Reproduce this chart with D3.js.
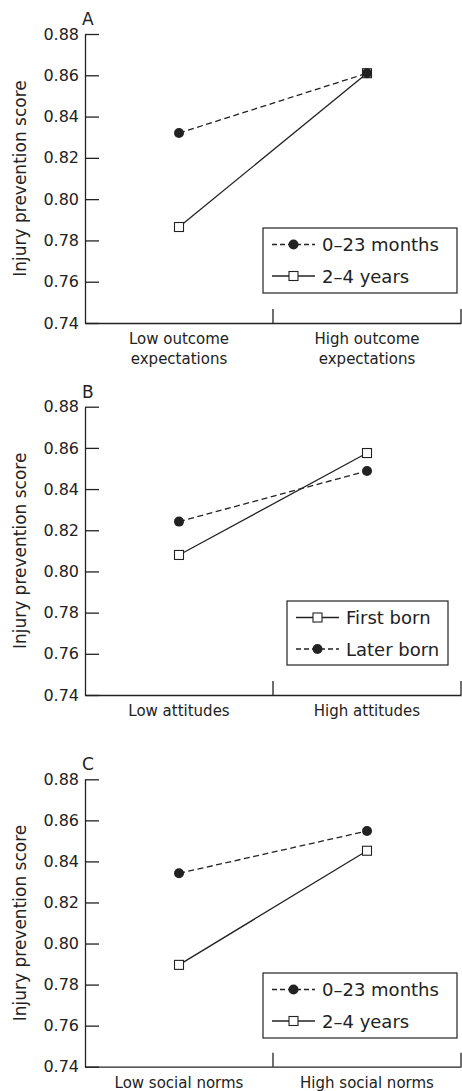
<!DOCTYPE html>
<html><head><meta charset="utf-8">
<script src="https://cdn.jsdelivr.net/npm/d3@7"></script>
<style>body{margin:0;background:#fff}svg{display:block}text{font-family:"DejaVu Sans",sans-serif;fill:#222}</style>
</head><body>
<script>
// ---- data ----
const yTicks = [0.74, 0.76, 0.78, 0.80, 0.82, 0.84, 0.86, 0.88];
const yLabel = "Injury prevention score";

const panelLabels = ["A", "B", "C"];

const categoriesA = ["Low outcome\nexpectations", "High outcome\nexpectations"];
const categoriesB = ["Low attitudes", "High attitudes"];
const categoriesC = ["Low social norms", "High social norms"];

// Panel A: child age
const youngA = [0.832, 0.861];   // 0–23 months
const olderA = [0.7865, 0.861];  // 2–4 years
// Panel B: birth order
const firstB = [0.808, 0.8575];  // First born
const laterB = [0.8242, 0.8488]; // Later born
// Panel C: child age
const youngC = [0.8342, 0.8548]; // 0–23 months
const olderC = [0.7896, 0.8452]; // 2–4 years

const seriesNamesAge = ["0–23 months", "2–4 years"];
const seriesNamesBirth = ["First born", "Later born"];

// ---- layout ----
const W = 462, H = 1091;
const svg = d3.select("body").append("svg").attr("width", W).attr("height", H);
const ink = "#222";

const panels = [
  {label: panelLabels[0], cats: categoriesA, top: 34, bottom: 323,
   series: [{name: seriesNamesAge[0], vals: youngA, type: "circle", dash: true},
            {name: seriesNamesAge[1], vals: olderA, type: "square", dash: false}],
   drawOrder: [1, 0],
   legend: {x: 263, y: 228, w: 194, h: 65}},
  {label: panelLabels[1], cats: categoriesB, top: 406.7, bottom: 695,
   series: [{name: seriesNamesBirth[0], vals: firstB, type: "square", dash: false},
            {name: seriesNamesBirth[1], vals: laterB, type: "circle", dash: true}],
   drawOrder: [0, 1],
   legend: {x: 287, y: 601, w: 161, h: 64}},
  {label: panelLabels[2], cats: categoriesC, top: 779.3, bottom: 1066.7,
   series: [{name: seriesNamesAge[0], vals: youngC, type: "circle", dash: true},
            {name: seriesNamesAge[1], vals: olderC, type: "square", dash: false}],
   drawOrder: [1, 0],
   legend: {x: 263, y: 973, w: 194, h: 65}}
];

const x0 = 85, x1 = 461;

function marker(g, type, cx, cy) {
  if (type === "circle") {
    g.append("circle").attr("cx", cx).attr("cy", cy).attr("r", 5).attr("fill", ink);
  } else {
    g.append("rect").attr("x", cx - 4.5).attr("y", cy - 4.5).attr("width", 9).attr("height", 9)
      .attr("fill", "#fff").attr("stroke", ink).attr("stroke-width", 1.1);
  }
}

panels.forEach(p => {
  const g = svg.append("g");
  const x = d3.scaleBand().domain(p.cats).range([x0, x1]).padding(0);
  const y = d3.scaleLinear().domain([0.74, 0.88]).range([p.bottom, p.top]);

  // y axis
  const ya = g.append("g").attr("transform", `translate(${x0},0)`)
    .call(d3.axisLeft(y).tickValues(yTicks).tickFormat(d3.format(".2f"))
      .tickSizeInner(-14).tickSizeOuter(0).tickPadding(6));
  ya.selectAll("path,line").attr("stroke", ink).attr("stroke-width", 1.3);
  ya.selectAll("text").attr("font-size", 16).attr("fill", ink).attr("font-family", "DejaVu Sans");

  // x axis
  const xa = g.append("g").attr("transform", `translate(0,${p.bottom})`)
    .call(d3.axisBottom(x).tickSize(0).tickFormat(""));
  xa.selectAll("path").attr("stroke", ink).attr("stroke-width", 1.3);
  xa.selectAll(".tick").remove();
  // band boundary ticks (upward)
  const bounds = [x(p.cats[1]), x1];
  g.selectAll(".bt").data(bounds).join("line")
    .attr("x1", d => d).attr("x2", d => d)
    .attr("y1", p.bottom).attr("y2", p.bottom - 14)
    .attr("stroke", ink).attr("stroke-width", 1.3);

  // x labels
  p.cats.forEach(c => {
    const lines = c.split("\n");
    const t = g.append("text").attr("text-anchor", "middle").attr("font-size", 15)
      .attr("x", x(c) + x.bandwidth() / 2).attr("y", p.bottom + 21);
    lines.forEach((l, i) => t.append("tspan").attr("x", x(c) + x.bandwidth() / 2)
      .attr("dy", i === 0 ? 0 : 20).text(l));
  });

  // panel label
  g.append("text").attr("x", 82).attr("y", p.top - 9).attr("font-size", 17).text(p.label);

  // y label
  g.append("text").attr("transform", `translate(26,${(p.top + p.bottom) / 2}) rotate(-90)`)
    .attr("text-anchor", "middle").attr("font-size", 17).text(yLabel);

  // lines
  const line = d3.line().x((d, i) => x(p.cats[i]) + x.bandwidth() / 2).y(d => y(d));
  p.drawOrder.forEach(si => {
    const s = p.series[si];
    g.append("path").datum(s.vals).attr("d", line).attr("fill", "none")
      .attr("stroke", ink).attr("stroke-width", 1.3)
      .attr("stroke-dasharray", s.dash ? "6,3.5" : null);
  });
  p.drawOrder.forEach(si => {
    const s = p.series[si];
    s.vals.forEach((v, i) => marker(g, s.type, x(p.cats[i]) + x.bandwidth() / 2, y(v)));
  });

  // legend
  const L = p.legend;
  g.append("rect").attr("x", L.x).attr("y", L.y).attr("width", L.w).attr("height", L.h)
    .attr("fill", "#fff").attr("stroke", ink).attr("stroke-width", 1.2);
  p.series.forEach((s, i) => {
    const cy = L.y + 16.5 + i * 31.5;
    const lx0 = L.x + 9, lx1 = L.x + 52;
    g.append("line").attr("x1", lx0).attr("x2", lx1).attr("y1", cy).attr("y2", cy)
      .attr("stroke", ink).attr("stroke-width", 1.3)
      .attr("stroke-dasharray", s.dash ? "5,3" : null);
    marker(g, s.type, (lx0 + lx1) / 2, cy);
    g.append("text").attr("x", L.x + 59).attr("y", cy + 6.5).attr("font-size", 18).text(s.name);
  });
});
</script>
</body></html>
